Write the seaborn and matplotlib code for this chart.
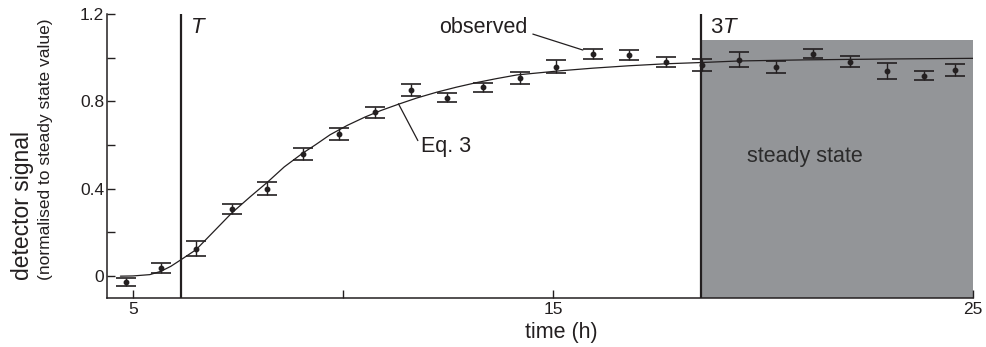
import numpy as np
import pandas as pd
import seaborn as sns
import matplotlib.pyplot as plt

# observed points (time in h, normalised signal, half error bar)
obs_time = [4.83, 5.66, 6.50, 7.35, 8.20, 9.04, 9.90, 10.75, 11.62, 12.48, 13.34, 14.21,
            15.07, 15.95, 16.81, 17.68, 18.55, 19.44, 20.31, 21.18, 22.07, 22.95, 23.83, 24.58]
obs_signal = [-0.027, 0.037, 0.126, 0.307, 0.400, 0.559, 0.651, 0.750, 0.853, 0.816, 0.865, 0.907,
              0.958, 1.018, 1.014, 0.979, 0.967, 0.991, 0.959, 1.018, 0.981, 0.939, 0.918, 0.943]
obs_err = [0.020, 0.022, 0.033, 0.022, 0.030, 0.026, 0.027, 0.024, 0.027, 0.021, 0.021, 0.026,
           0.030, 0.023, 0.023, 0.023, 0.027, 0.034, 0.027, 0.021, 0.025, 0.038, 0.022, 0.026]

# Eq. 3 curve
curve_time = [4.7, 5.0, 5.4, 5.66, 5.9, 6.14, 6.5, 6.9, 7.35, 7.8, 8.2, 8.6, 9.04, 9.35, 9.69,
              10.1, 10.52, 10.9, 11.32, 11.75, 12.23, 12.7, 13.18, 13.65, 14.14, 15.17, 15.95,
              16.81, 17.68, 18.55, 19.44, 21.0, 23.0, 25.0]
curve_signal = [0.0, 0.001, 0.007, 0.022, 0.045, 0.075, 0.121, 0.2, 0.289, 0.365, 0.43, 0.5,
                0.563, 0.602, 0.647, 0.69, 0.728, 0.758, 0.787, 0.815, 0.842, 0.865, 0.886,
                0.904, 0.921, 0.94, 0.952, 0.963, 0.972, 0.978, 0.985, 0.99, 0.994, 0.997]

T_line = 6.14
T3_line = 18.52
steady_top = 1.081

x_ticks = [5, 10, 15, 25]
x_labels = ["5", "", "15", "25"]
y_ticks = [0, 0.2, 0.4, 0.6, 0.8, 1.0, 1.2]
y_labels = ["0", "", "0.4", "", "0.8", "", "1.2"]

sns.set_theme(style="ticks")
plt.rcParams['font.family'] = ['Liberation Sans', 'DejaVu Sans']
plt.rcParams['mathtext.fontset'] = 'custom'
plt.rcParams['mathtext.it'] = 'Liberation Sans:italic'
plt.rcParams['mathtext.rm'] = 'Liberation Sans'

ink = "#231f20"
fig = plt.figure(figsize=(9.87, 3.47), dpi=100)
ax = fig.add_axes([0.1084, 0.1412, 0.8774, 0.8185])

# steady state block
ax.fill_between([T3_line, 25], -0.1, steady_top, color="#939598", lw=0, zorder=0)

curve = pd.DataFrame({"time": curve_time, "signal": curve_signal})
sns.lineplot(data=curve, x="time", y="signal", ax=ax, color=ink, lw=0.9, zorder=3)

ax.errorbar(obs_time, obs_signal, yerr=obs_err, fmt="o", ms=3.2, color=ink,
            ecolor=ink, elinewidth=1.0, capsize=7.2, capthick=1.2, zorder=4)

ax.axvline(T_line, color=ink, lw=1.6, zorder=2)
ax.axvline(T3_line, color=ink, lw=1.6, zorder=2)

ax.set_xlim(4.38, 25)
ax.set_ylim(-0.1, 1.2)
ax.set_xticks(x_ticks)
ax.set_xticklabels(x_labels)
ax.set_yticks(y_ticks)
ax.set_yticklabels(y_labels)
ax.tick_params(direction="in", length=6, width=1, color=ink, labelcolor=ink, labelsize=12.5)
ax.tick_params(axis="y", pad=2)
ax.tick_params(axis="x", pad=3)
sns.despine(ax=ax)
for s in ["left", "bottom"]:
    ax.spines[s].set_color(ink)
    ax.spines[s].set_linewidth(1.1)

ax.set_xlabel("time (h)", fontsize=15.5, color=ink, labelpad=0)
ax.xaxis.set_label_coords(0.525, -0.085)
ax.set_ylabel("")

fig.text(0.0223, 0.193, "detector signal", rotation=90, ha="center", va="bottom",
         fontsize=16.5, color=ink)
fig.text(0.0456, 0.193, "(normalised to steady state value)", rotation=90, ha="center",
         va="bottom", fontsize=12.5, color=ink)

ax.text(6.36, 1.14, "$T$", fontsize=16, color=ink, ha="left", va="center")
ax.text(18.74, 1.14, "3$T$", fontsize=16, color=ink, ha="left", va="center")
ax.text(20.99, 0.548, "steady state", fontsize=15.5, color="#2b2b2b", ha="center", va="center")

ax.text(14.4, 1.14, "observed", fontsize=15.5, color=ink, ha="right", va="center")
ax.annotate("", xy=(15.71, 1.035), xytext=(14.52, 1.108),
            arrowprops=dict(arrowstyle="-", color=ink, lw=0.9, shrinkA=0, shrinkB=0))
ax.annotate("Eq. 3", xy=(11.32, 0.789), xytext=(11.86, 0.592), fontsize=15.5, color=ink,
            ha="left", va="center",
            arrowprops=dict(arrowstyle="-", color=ink, lw=0.9, shrinkA=0, shrinkB=0,
                            relpos=(0, 0.5)))

fig.savefig("out.png", dpi=100)
